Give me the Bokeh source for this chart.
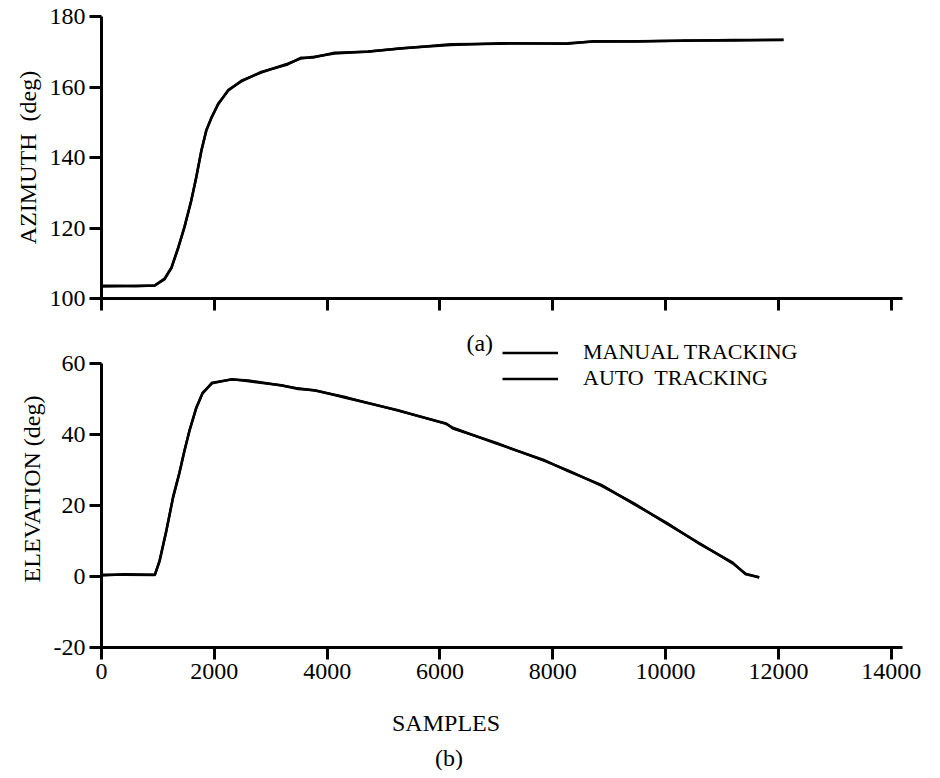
from bokeh.plotting import figure
from bokeh.layouts import column
from bokeh.models import FixedTicker, Label, Legend, LegendItem
from bokeh.embed import file_html
from bokeh.resources import INLINE

# ---------------- data ----------------
x_ticks = [0, 2000, 4000, 6000, 8000, 10000, 12000, 14000]
az_ticks = [100, 120, 140, 160, 180]
el_ticks = [-20, 0, 20, 40, 60]

az_samples = [0, 300, 600, 940, 1120, 1240, 1360, 1470, 1590, 1680, 1770, 1860,
              1950, 2070, 2250, 2480, 2830, 3300, 3540, 3770, 4130, 4720, 5310,
              6190, 7080, 8260, 8730, 9500, 10300, 11200, 12090]
az_manual = [103.6, 103.6, 103.5, 103.7, 105.7, 108.8, 114.5, 120.1, 127.8, 134.3,
             142.0, 147.7, 151.4, 155.3, 159.0, 161.8, 164.1, 166.6, 168.1, 168.6,
             169.5, 170.1, 170.9, 172.1, 172.3, 172.4, 172.9, 173.0, 173.1, 173.3, 173.3]
az_auto = [103.4, 103.5, 103.6, 103.6, 105.5, 108.6, 114.3, 120.3, 127.6, 134.5,
           141.8, 147.9, 151.2, 155.1, 159.2, 161.6, 164.3, 166.4, 168.3, 168.4,
           169.7, 170.0, 171.0, 171.9, 172.4, 172.3, 173.0, 172.9, 173.2, 173.2, 173.4]

el_samples = [0, 400, 945, 1030, 1150, 1270, 1380, 1470, 1560, 1680, 1790, 1960,
              2310, 2610, 3190, 3485, 3780, 4360, 5240, 6110, 6230, 6990, 7830,
              8270, 8860, 9440, 10020, 10610, 11190, 11420, 11660]
el_manual = [0.5, 0.5, 0.4, 4.5, 13.0, 22.3, 29.0, 35.5, 41.0, 47.6, 51.5, 54.6,
             55.5, 55.2, 53.8, 53.0, 52.4, 50.4, 46.8, 43.1, 41.7, 37.7, 32.7,
             29.9, 25.6, 20.6, 14.9, 9.3, 3.7, 0.8, -0.3]
el_auto = [0.3, 0.6, 0.5, 4.3, 12.8, 22.5, 29.2, 35.3, 41.2, 47.4, 51.7, 54.4,
           55.6, 55.0, 53.9, 52.8, 52.5, 50.2, 46.9, 43.0, 41.9, 37.5, 32.9,
           29.7, 25.8, 20.4, 15.1, 9.1, 3.9, 0.6, -0.2]

labels = ["MANUAL TRACKING", "AUTO\u00a0 TRACKING"]

FONT = "Liberation Serif"
W = 930


def style(p, yticks):
    p.outline_line_color = None
    p.grid.visible = False
    p.background_fill_color = "white"
    p.border_fill_color = "white"
    for ax in (p.xaxis[0], p.yaxis[0]):
        ax.axis_line_width = 3
        ax.axis_line_color = "black"
        ax.major_tick_line_width = 3
        ax.major_tick_line_color = "black"
        ax.major_tick_in = 0
        ax.major_tick_out = 12
        ax.minor_tick_in = 0
        ax.minor_tick_out = 0
        ax.major_label_text_font = FONT
        ax.major_label_text_font_size = "24px"
        ax.major_label_text_color = "black"
        ax.axis_label_text_font = FONT
        ax.axis_label_text_font_size = "24px"
        ax.axis_label_text_font_style = "normal"
        ax.axis_label_text_color = "black"
    p.xaxis[0].ticker = FixedTicker(ticks=x_ticks)
    p.yaxis[0].ticker = FixedTicker(ticks=yticks)
    p.yaxis[0].major_label_standoff = 4
    p.yaxis[0].axis_label_standoff = 6


# ---------------- top panel: azimuth ----------------
p1 = figure(width=W, height=330, x_range=(0, 14200), y_range=(100, 180),
            output_backend="svg", toolbar_location=None,
            min_border_left=100, min_border_right=28, min_border_top=16,
            min_border_bottom=32)
style(p1, az_ticks)
p1.yaxis[0].axis_label = "AZIMUTH\u00a0 (deg)"
p1.xaxis[0].major_label_text_font_size = "1px"
p1.xaxis[0].major_label_text_alpha = 0
p1.line(az_samples, az_manual, line_color="black", line_width=2.5)
p1.line(az_samples, az_auto, line_color="black", line_width=2.5)

# ---------------- bottom panel: elevation ----------------
# frame extends a little above 60 so that "(a)" and the legend are not clipped;
# the y axis itself is bounded to -20..60
p2 = figure(width=W, height=365, x_range=(0, 14200), y_range=(-20, 69.3),
            output_backend="svg", toolbar_location=None,
            min_border_left=101, min_border_right=20, min_border_top=0,
            min_border_bottom=48)
style(p2, el_ticks)
p2.yaxis[0].bounds = (-20, 60)
p2.yaxis[0].axis_label = "ELEVATION (deg)"
p2.yaxis[0].major_label_overrides = {-20: "-20"}
p2.xaxis[0].major_label_standoff = 4
r_man = p2.line(el_samples, el_manual, line_color="black", line_width=2.5)
r_auto = p2.line(el_samples, el_auto, line_color="black", line_width=2.5)

legend = Legend(items=[LegendItem(label=labels[0], renderers=[r_man]),
                       LegendItem(label=labels[1], renderers=[r_auto])],
                location=(401, 256), orientation="vertical",
                border_line_color=None, background_fill_alpha=0,
                padding=0, margin=0, spacing=0,
                glyph_width=56, glyph_height=23, label_height=23,
                label_standoff=25, label_text_font=FONT,
                label_text_font_size="22px", label_text_color="black")
p2.add_layout(legend, "center")

p2.add_layout(Label(x=6705, y=65.8, text="(a)", text_font=FONT,
                    text_font_size="24px", text_align="center",
                    text_baseline="middle", text_color="black"))

# ---------------- caption strip: x-axis title and "(b)" ----------------
p3 = figure(width=W, height=75, x_range=p2.x_range, y_range=(0, 75),
            output_backend="svg", toolbar_location=None,
            min_border_left=101, min_border_right=20, min_border_top=0,
            min_border_bottom=0)
p3.axis.visible = False
p3.grid.visible = False
p3.outline_line_color = None
p3.add_layout(Label(x=6108, y=48, text="SAMPLES", text_font=FONT,
                    text_font_size="24px", text_align="center",
                    text_baseline="middle", text_color="black"))
p3.add_layout(Label(x=6161, y=13, text="(b)", text_font=FONT,
                    text_font_size="24px", text_align="center",
                    text_baseline="middle", text_color="black"))

layout = column(p1, p2, p3, spacing=0)
open("out.html", "w").write(file_html(layout, INLINE))
